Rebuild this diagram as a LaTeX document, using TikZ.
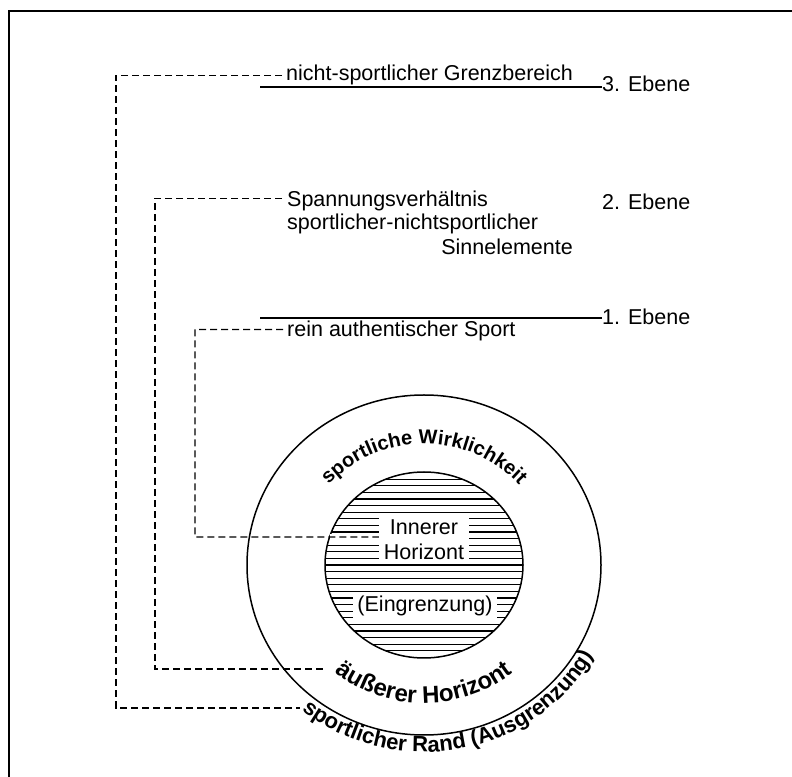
\documentclass[tikz,border=0pt]{standalone}
\usepackage{fontspec}
\setmainfont{Liberation Sans}
\usetikzlibrary{decorations.text}
\newcommand\lblsize{\fontsize{21.5bp}{25bp}\selectfont}
\newcommand\wirkfont{\fontsize{20bp}{24bp}\selectfont\bfseries}
\newcommand\horfont{\fontsize{24bp}{28bp}\selectfont\bfseries}
\newcommand\randfont{\fontsize{22bp}{26bp}\selectfont\bfseries}

\begin{document}
\begin{tikzpicture}[x=1bp,y=1bp,
  lbl/.style={font=\lblsize, inner sep=0pt},
  conn/.style={line width=1.3bp, dash pattern=on 7bp off 4bp},
  level/.style={line width=1.8bp},
  ring/.style={line width=1.5bp},
  hatch/.style={line width=1.1bp},
  knock/.style={fill=white, font=\lblsize, inner sep=0pt}]
\useasboundingbox (0,0) rectangle (792,777);

% frame (top and left edge)
\draw[line width=2bp] (9,0) -- (9,766) -- (792,766);

% centre of the rings
\coordinate (c) at (424,212);

% --- level 3 ---
\node[lbl, anchor=base west] (t3) at (286,696) {nicht-sportlicher Grenzbereich};
\node[lbl, anchor=west] (e3) at (602,693) {3. Ebene};
\coordinate (l3) at (260,690);
\draw[level] (l3) -- (l3 -| e3.west);

% --- level 2 ---
\node[lbl, anchor=base west] (s2a) at (287,570) {Spannungsverhältnis};
\node[lbl, anchor=base west] (s2b) at (287,547) {sportlicher-nichtsportlicher};
\node[lbl, anchor=base east] (s2c) at (573,522) {Sinnelemente};
\node[lbl, anchor=west] (e2) at (602,575) {2. Ebene};

% --- level 1 ---
\node[lbl, anchor=base west] (t1) at (287,440) {rein authentischer Sport};
\node[lbl, anchor=west] (e1) at (602,460) {1. Ebene};
\coordinate (l1) at (260,459);
\draw[level] (l1) -- (l1 -| e1.west);

% --- outer ring ---
\draw[ring] (c) ellipse[x radius=177, y radius=170];

% --- hatched inner disc ---
\begin{scope}
  \clip (c) ellipse[x radius=99, y radius=93];
  \foreach \k in {-14,...,14}
    \draw[hatch] (320,{212+6.6*\k}) -- (528,{212+6.6*\k});
\end{scope}
\draw[ring] (c) ellipse[x radius=99, y radius=93];

\node[knock, align=center, inner xsep=5bp, inner ysep=3bp] (ih) at (424,237) {Innerer\\Horizont};
\node[knock, inner xsep=4bp, inner ysep=2.5bp] (eg) at (425,171) {(Eingrenzung)};
\fill[white] (330,237) rectangle (380,243);

% --- curved ring labels ---
\path[decorate, decoration={text along path, text align=center,
    text={|\wirkfont|sportliche Wirklichkeit}}]
  (c) ++(165:127 and 121) arc[start angle=165, end angle=15, x radius=127, y radius=121];
\path[decorate, decoration={text along path, text align=center,
    text={|\horfont|äußerer Horizont}}]
  (c) ++(200:143 and 138) arc[start angle=200, end angle=340, x radius=143, y radius=138];
\path[decorate, decoration={text along path, text align=center,
    text={|\randfont|sportlicher Rand (Ausgrenzung)}}]
  (c) ++(222:194 and 187) arc[start angle=222, end angle=340, x radius=194, y radius=187];

% --- dashed connectors ---
\coordinate (rand) at (300,69);
\coordinate (aeuss) at (327,108);
\draw[conn] ([xshift=-4bp]t3.west) -| (116,69) -- (rand);
\draw[conn] ([shift={(-5bp,3bp)}]s2a.west) -| (155,108) -- (aeuss);
\draw[conn] ([shift={(-4bp,2bp)}]t1.west) -| (195,240) -- ([yshift=3bp]ih.west);
\end{tikzpicture}
\end{document}
